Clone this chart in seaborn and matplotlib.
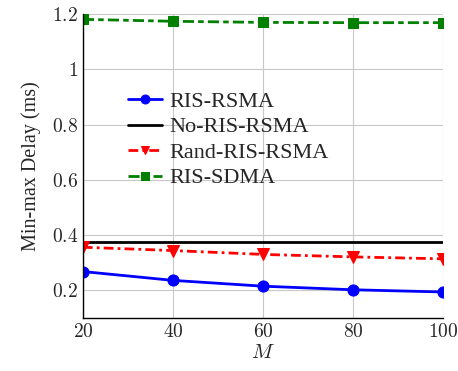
import numpy as np
import pandas as pd
import seaborn as sns
import matplotlib
matplotlib.use("Agg")
import matplotlib.pyplot as plt

M = [20, 40, 60, 80, 100]
ris_rsma = [0.268, 0.236, 0.215, 0.202, 0.194]
no_ris_rsma = [0.374, 0.374, 0.374, 0.374, 0.374]
rand_ris_rsma = [0.356, 0.344, 0.330, 0.321, 0.314]
ris_sdma = [1.181, 1.174, 1.170, 1.169, 1.169]

sns.set_style("white")
plt.rcParams['font.family'] = ['Liberation Serif', 'DejaVu Serif']
plt.rcParams['mathtext.fontset'] = 'cm'

fig = plt.figure(figsize=(4.58, 3.71), dpi=100)
ax = fig.add_axes([0.181, 0.143, 0.786, 0.819])

sns.lineplot(x=M, y=ris_rsma, ax=ax, color='blue', lw=2, marker='o', ms=8,
             markeredgecolor='blue', label='RIS-RSMA')
sns.lineplot(x=M, y=no_ris_rsma, ax=ax, color='black', lw=2, label='No-RIS-RSMA')
sns.lineplot(x=M, y=rand_ris_rsma, ax=ax, color='red', lw=2, marker='v', ms=8,
             markeredgecolor='red', dashes=(3.5, 1.5, 1, 1.5), label='Rand-RIS-RSMA')
sns.lineplot(x=M, y=ris_sdma, ax=ax, color='green', lw=2, marker='s', ms=7,
             markeredgecolor='green', dashes=(4, 1.5, 2, 1.5), label='RIS-SDMA')

ax.set_xlim(20, 100)
ax.set_ylim(0.1, 1.2)
ax.set_xticks(M)
ax.set_yticks([0.2, 0.4, 0.6, 0.8, 1.0, 1.2])
ax.set_xticklabels([f'${v}$' for v in M])
ax.set_yticklabels(['$0.2$', '$0.4$', '$0.6$', '$0.8$', '$1$', '$1.2$'])
ax.tick_params(labelsize=14, direction='in', length=4, width=0.8)
ax.grid(True, color='#c8c8c8', lw=0.8)
ax.set_axisbelow(True)
for s in ['top', 'right']:
    ax.spines[s].set_visible(False)
for s in ['left', 'bottom']:
    ax.spines[s].set_color('black')
    ax.spines[s].set_linewidth(1.0)
ax.set_xlabel('$M$', fontsize=15, labelpad=2)
ax.set_ylabel('Min-max Delay (ms)', fontsize=14.5, labelpad=8)

ax.legend(loc='upper left', bbox_to_anchor=(0.095, 0.782), frameon=False, fontsize=16,
          handlelength=1.5, labelspacing=0.22, borderpad=0, handletextpad=0.35,
          markerscale=0.8)

fig.savefig('out.png', dpi=100)
